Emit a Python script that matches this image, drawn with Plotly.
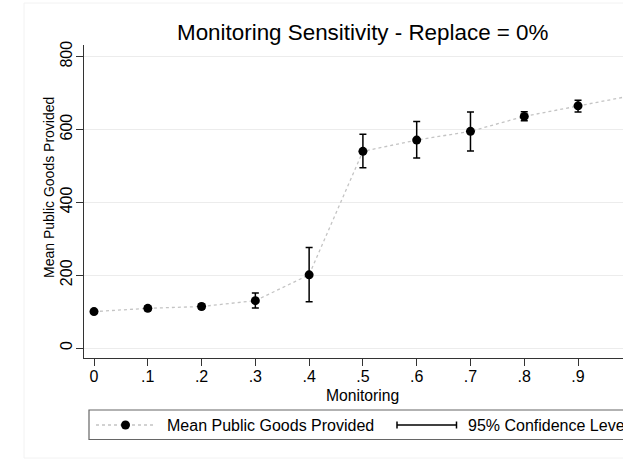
import plotly.graph_objects as go

monitoring = [0.0, 0.1, 0.2, 0.3, 0.4, 0.5, 0.6, 0.7, 0.8, 0.9, 1.0]
mean_pg = [100, 109, 114, 130, 201, 540, 571, 595, 636, 665, 693]
ci_low = [96, 103, 108, 110, 127, 495, 522, 541, 624, 648, 676]
ci_high = [104, 115, 120, 151, 276, 587, 622, 648, 649, 680, 710]
x_ticks = [0, 0.1, 0.2, 0.3, 0.4, 0.5, 0.6, 0.7, 0.8, 0.9]
x_labels = ["0", ".1", ".2", ".3", ".4", ".5", ".6", ".7", ".8", ".9"]
y_ticks = [0, 200, 400, 600, 800]

FONT = "Liberation Sans, Arial, sans-serif"
W, H = 623, 461
L, R, T, B = 84, 623, 45, 358  # plot area pixel bounds


def px(x):
    return (x - L) / (R - L)


def py(y):
    return (B - y) / (B - T)


err_plus = [h - m for h, m in zip(ci_high, mean_pg)]
err_minus = [m - l for m, l in zip(mean_pg, ci_low)]

fig = go.Figure()
fig.add_trace(go.Scatter(
    x=monitoring, y=mean_pg, mode="lines",
    line=dict(color="#c4c4c4", width=1.3, dash="dot"),
    showlegend=False, hoverinfo="skip",
))
fig.add_trace(go.Scatter(
    x=monitoring, y=mean_pg, mode="markers",
    marker=dict(color="black", size=9),
    error_y=dict(type="data", symmetric=False, array=err_plus, arrayminus=err_minus,
                 color="black", thickness=1.5, width=3.5),
    showlegend=False,
))

fig.update_layout(
    width=W, height=H,
    margin=dict(l=L, r=W - R, t=T, b=H - B, pad=0),
    paper_bgcolor="white", plot_bgcolor="white",
    font=dict(family=FONT, color="black", size=15),
    showlegend=False,
    xaxis=dict(
        range=[-0.0186, 0.9836], tickvals=x_ticks, ticktext=x_labels,
        showgrid=False, zeroline=False, showline=True, linecolor="#333", linewidth=1.2,
        ticks="outside", ticklen=7, tickcolor="#333", tickwidth=1.2,
        tickfont=dict(size=16, family=FONT), ticklabelstandoff=-3,
    ),
    yaxis=dict(
        range=[-27.4, 832], tickvals=y_ticks, tickangle=-90,
        showgrid=True, gridcolor="#ececec", gridwidth=1, zeroline=False,
        showline=True, linecolor="#333", linewidth=1.2,
        ticks="outside", ticklen=7, tickcolor="#333", tickwidth=1.2,
        tickfont=dict(size=16, family=FONT), ticklabelstandoff=-2,
    ),
)

shapes = []
# outer faint frame
shapes.append(dict(type="rect", xref="paper", yref="paper",
                   x0=px(24), x1=px(700), y0=py(458), y1=py(3),
                   line=dict(color="#f2f2f2", width=1), fillcolor="rgba(0,0,0,0)", layer="below"))
# legend box
shapes.append(dict(type="rect", xref="paper", yref="paper",
                   x0=px(89), x1=px(700), y0=py(439.5), y1=py(410),
                   line=dict(color="#666", width=1.2), fillcolor="white"))
ly = py(425)
# legend item 1: dotted line with marker
shapes.append(dict(type="line", xref="paper", yref="paper",
                   x0=px(96), x1=px(153), y0=ly, y1=ly,
                   line=dict(color="#c4c4c4", width=1.3, dash="dot")))
shapes.append(dict(type="circle", xref="paper", yref="paper",
                   x0=px(125.5 - 4.5), x1=px(125.5 + 4.5), y0=py(425 + 4.5), y1=py(425 - 4.5),
                   line=dict(color="black", width=0), fillcolor="black"))
# legend item 2: CI symbol
shapes.append(dict(type="line", xref="paper", yref="paper",
                   x0=px(397), x1=px(456.5), y0=ly, y1=ly,
                   line=dict(color="black", width=1.5)))
for xx in (397, 456.5):
    shapes.append(dict(type="line", xref="paper", yref="paper",
                       x0=px(xx), x1=px(xx), y0=py(428.5), y1=py(421.5),
                       line=dict(color="black", width=1.5)))
fig.update_layout(shapes=shapes)

annotations = [
    dict(text="Monitoring Sensitivity - Replace = 0%", xref="paper", yref="paper",
         x=px(362.5), y=py(33), xanchor="center", yanchor="middle", showarrow=False,
         font=dict(size=22.4, family=FONT, color="black")),
    dict(text="Monitoring", xref="paper", yref="paper",
         x=px(362.7), y=py(395), xanchor="center", yanchor="middle", showarrow=False,
         font=dict(size=15.7, family=FONT, color="black")),
    dict(text="Mean Public Goods Provided", xref="paper", yref="paper",
         x=px(49), y=py(188), xanchor="center", yanchor="middle", showarrow=False,
         textangle=-90, font=dict(size=14, family=FONT, color="black")),
    dict(text="Mean Public Goods Provided", xref="paper", yref="paper",
         x=px(165), y=ly, xanchor="left", yanchor="middle", showarrow=False,
         font=dict(size=16, family=FONT, color="black")),
    dict(text="95% Confidence Level", xref="paper", yref="paper",
         x=px(466), y=ly, xanchor="left", yanchor="middle", showarrow=False,
         font=dict(size=16, family=FONT, color="black")),
]
fig.update_layout(annotations=annotations)

fig.write_html("out.html")
